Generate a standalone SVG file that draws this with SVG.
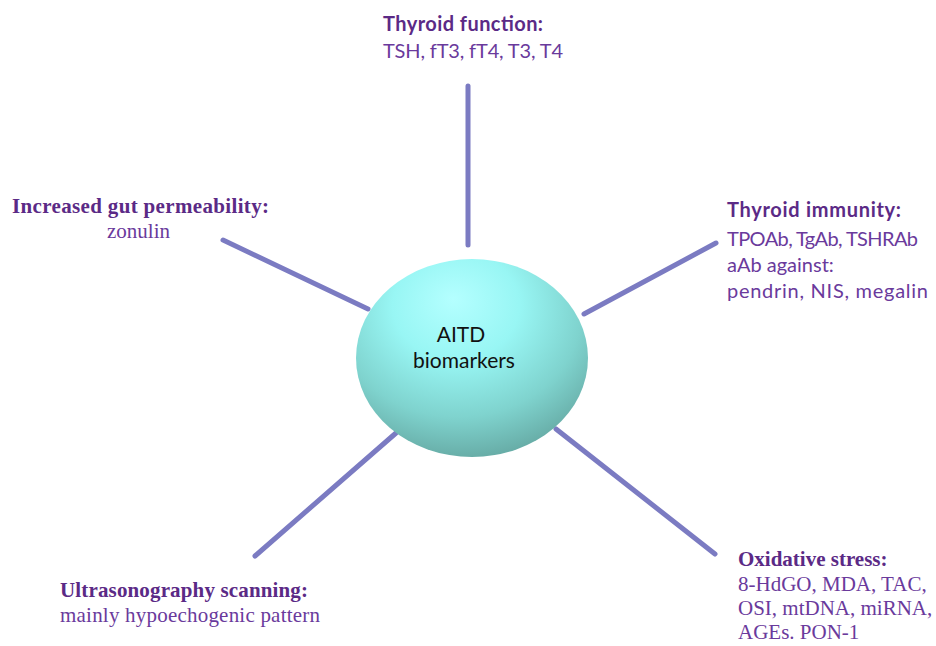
<svg xmlns="http://www.w3.org/2000/svg" width="936" height="646" viewBox="0 0 936 646">
<defs>
<radialGradient id="ball" cx="0.45" cy="0.3" r="0.78" fx="0.42" fy="0.2">
<stop offset="0" stop-color="#b4ffff"/>
<stop offset="0.35" stop-color="#98f6f4"/>
<stop offset="0.68" stop-color="#7fd3ce"/>
<stop offset="1" stop-color="#5f9f99"/>
</radialGradient>
<style>
.conn{stroke:#7b7bc2;stroke-width:5;stroke-linecap:round;fill:none}
.hs{font-family:Lato,"Open Sans",sans-serif;font-weight:bold;fill:#5b2a86;font-size:20px}
.bs{font-family:Lato,"Open Sans",sans-serif;fill:#6a3a9c;font-size:20px}
.hr{font-family:"Liberation Serif",serif;font-weight:bold;fill:#5b2a86;font-size:21px}
.br{font-family:"Liberation Serif",serif;fill:#6a3a9c;font-size:21px}
.c{font-family:Lato,"Open Sans",sans-serif;fill:#111;font-size:21px;text-anchor:middle}
</style>
</defs>
<rect width="936" height="646" fill="#fff"/>
<g id="connectors">
<line class="conn" x1="468" y1="86" x2="468" y2="245"/>
<line class="conn" x1="223" y1="240" x2="368" y2="309"/>
<line class="conn" x1="716" y1="243" x2="584" y2="314"/>
<line class="conn" x1="255" y1="556" x2="396" y2="433"/>
<line class="conn" x1="556" y1="429" x2="715" y2="554"/>
</g>
<g id="center">
<ellipse cx="472" cy="358" rx="116" ry="99" fill="url(#ball)"/>
<text class="c" x="461" y="342">AITD</text>
<text class="c" x="464" y="368">biomarkers</text>
</g>
<g id="thyroid-function">
<text class="hs" x="383" y="31" textLength="160">Thyroid function:</text>
<text class="bs" x="383" y="58" textLength="180">TSH, fT3, fT4, T3, T4</text>
</g>
<g id="gut">
<text class="hr" x="12" y="213" textLength="257">Increased gut permeability:</text>
<text class="br" x="107" y="238">zonulin</text>
</g>
<g id="immunity">
<text class="hs" x="727" y="217" textLength="174">Thyroid immunity:</text>
<text class="bs" x="727" y="246" textLength="191">TPOAb, TgAb, TSHRAb</text>
<text class="bs" x="727" y="272">aAb against:</text>
<text class="bs" x="727" y="298" textLength="201">pendrin, NIS, megalin</text>
</g>
<g id="ultrasound">
<text class="hr" x="60" y="597" textLength="248">Ultrasonography scanning:</text>
<text class="br" x="60" y="622" textLength="260">mainly hypoechogenic pattern</text>
</g>
<g id="oxidative">
<text class="hr" x="738" y="566">Oxidative stress:</text>
<text class="br" x="738" y="591">8-HdGO, MDA, TAC,</text>
<text class="br" x="738" y="615">OSI, mtDNA, miRNA,</text>
<text class="br" x="738" y="639">AGEs. PON-1</text>
</g>
</svg>
